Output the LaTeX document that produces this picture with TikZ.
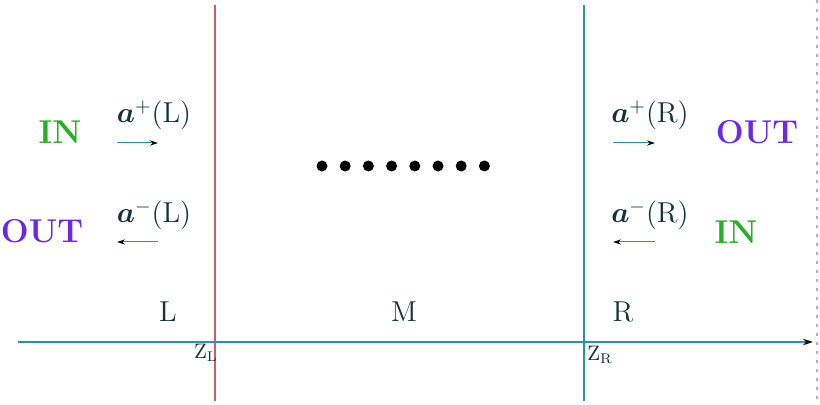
\documentclass[tikz,border=0pt]{standalone}
\usepackage{amsmath,bm}
\usetikzlibrary{arrows.meta}
\definecolor{inGreen}{RGB}{40,175,40}
\definecolor{outPurple}{RGB}{110,40,225}
\definecolor{lineRed}{RGB}{205,95,100}
\definecolor{lineTeal}{RGB}{35,150,170}
\definecolor{dotPink}{RGB}{240,150,185}
\definecolor{txt}{RGB}{20,50,55}
\tikzset{
  inlbl/.style={text=inGreen,font=\fontsize{16.5}{19}\selectfont\bfseries,inner sep=0pt},
  outlbl/.style={text=outPurple,font=\fontsize{16.5}{19}\selectfont\bfseries,inner sep=0pt},
  amp/.style={text=txt,font=\fontsize{14.5}{17}\selectfont,inner sep=0pt},
  region/.style={text=txt,font=\Large,inner sep=0pt},
  zlbl/.style={text=txt,font=\fontsize{10.5}{12}\selectfont,inner sep=0pt},
  smallarrow/.style={draw=lineTeal,line width=0.5pt,-{Stealth[length=4pt,width=2.6pt,black]}},
  dotmark/.style={circle,fill=black,minimum size=5.5pt,inner sep=0pt}
}
\begin{document}
\begin{tikzpicture}[x=0.5pt,y=-0.5pt]
\useasboundingbox (0,0) rectangle (820,405);
% interfaces
\coordinate (lt) at (215,5); \coordinate (lb) at (215,401);
\coordinate (rt) at (584,5); \coordinate (rb) at (584,401);
\draw[lineRed,line width=0.6pt] (lt) -- (lb);
\draw[lineTeal,line width=0.6pt] (rt) -- (rb);
% axis
\coordinate (a0) at (18,342); \coordinate (a1) at (813,342);
\draw[lineTeal,line width=0.6pt,-{Stealth[length=5pt,width=3.2pt,black]}] (a0) -- (a1);
% right dotted edge
\coordinate (e0) at (817,0); \coordinate (e1) at (817,405);
\draw[dotPink,line width=0.6pt,dash pattern=on 1.5pt off 3pt] (e0) -- (e1);
% labels
\node[inlbl] (inL) at (60,132) {IN};
\node[outlbl] (outL) at (42,231) {OUT};
\node[outlbl] (outR) at (757,132) {OUT};
\node[inlbl] (inR) at (736,232) {IN};
\node[amp] (apL) at (154,115) {$\bm{a}^{+}(\mathrm{L})$};
\node[amp] (amL) at (154,215) {$\bm{a}^{-}(\mathrm{L})$};
\node[amp] (apR) at (650,115) {$\bm{a}^{+}(\mathrm{R})$};
\node[amp] (amR) at (650,215) {$\bm{a}^{-}(\mathrm{R})$};
% small arrows
\coordinate (pl0) at (117,143); \coordinate (pl1) at (158,143);
\coordinate (ml0) at (158,242); \coordinate (ml1) at (117,242);
\coordinate (pr0) at (613,143); \coordinate (pr1) at (655,143);
\coordinate (mr0) at (655,242); \coordinate (mr1) at (613,242);
\draw[smallarrow] (pl0) -- (pl1);
\draw[smallarrow] (ml0) -- (ml1);
\draw[smallarrow] (pr0) -- (pr1);
\draw[smallarrow] (mr0) -- (mr1);
% dots
\foreach \i in {0,...,7}{\node[dotmark] (d\i) at (322+23.2*\i,166) {};}
% regions
\node[region] (L) at (168,312) {L};
\node[region] (M) at (404,312) {M};
\node[region] (R) at (623,312) {R};
\node[zlbl] (zL) at (206,353) {Z$_{\mathrm{L}}$};
\node[zlbl] (zR) at (600,355) {Z$_{\mathrm{R}}$};
\end{tikzpicture}
\end{document}
